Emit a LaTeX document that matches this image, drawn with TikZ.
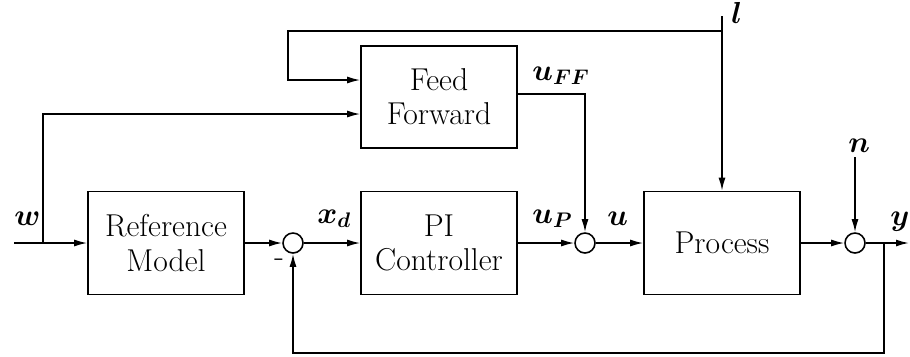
\documentclass[tikz,border=0pt]{standalone}
\usepackage{amsmath,amssymb,bm}
\usetikzlibrary{arrows.meta,calc}

\tikzset{
  block/.style={draw, line width=0.9pt, minimum width=3.12cm, minimum height=2.06cm,
    align=center, font=\fontsize{18}{19.5}\selectfont},
  sumpoint/.style={draw, circle, line width=0.9pt, minimum size=0.4cm, inner sep=0pt},
  wire/.style={line width=0.9pt},
  sig/.style={wire, -{Latex[length=2.6mm,width=1.4mm]}},
  lbl/.style={anchor=base west, inner sep=0pt, font=\fontsize{18}{20}\selectfont}
}

\begin{document}
\begin{tikzpicture}[x=0.02cm, y=-0.02cm]
  \useasboundingbox (0,0) rectangle (910,356);

  % Bloecke
  \node[block] (refmodel) at (166,243) {Reference\\Model};
  \node[block] (pi) at (439,243) {PI\\Controller};
  \node[block] (process) at (722,243) {Process};
  \node[block, minimum height=2.04cm] (ff) at (439,97) {Feed\\Forward};

  % Summationsstellen
  \node[sumpoint] (sum1) at (293,243) {};
  \node[sumpoint] (sum2) at (585,243) {};
  \node[sumpoint] (sum3) at (855,243) {};

  % Hilfspunkte
  \coordinate (win) at (14,243);
  \coordinate (wbranch) at (43,243);
  \coordinate (ltop) at (722,16);
  \coordinate (lbranch) at (722,31);
  \coordinate (lcorner) at (288,31);
  \coordinate (ntop) at (855,157);
  \coordinate (yout) at (909,243);
  \coordinate (ybranch) at (884,243);
  \coordinate (fbcorner) at (884,353);

  % Beschriftungen
  \node[lbl] (lw) at (14,225) {$\bm{w}$};
  \node[lbl] (lxd) at (317,223) {$\bm{x_d}$};
  \node[lbl] (lup) at (532,223) {$\bm{u_P}$};
  \node[lbl] (lu) at (607,225) {$\bm{u}$};
  \node[lbl] (ly) at (890,225) {$\bm{y}$};
  \node[lbl] (luff) at (532,80) {$\bm{u_{FF}}$};
  \node[lbl] (ln) at (848,152) {$\bm{n}$};
  \node[lbl] (ll) at (731,23) {$\bm{l}$};
  \node[lbl] (minus) at (274,266) {-};

  % Hauptpfad
  \draw[sig] (win) -- (refmodel.west);
  \draw[sig] (refmodel.east) -- (sum1.west);
  \draw[sig] (sum1.east) -- (pi.west);
  \draw[sig] (pi.east) -- (sum2.west);
  \draw[sig] (sum2.east) -- (process.west);
  \draw[sig] (process.east) -- (sum3.west);
  \draw[sig] (sum3.east) -- (yout);

  % Vorsteuerung
  \draw[sig] (wbranch) |- ($(ff.west)+(0,17)$);
  \draw[sig] (lbranch) -- (lcorner) |- ($(ff.west)+(0,-17)$);
  \draw[sig] ($(ff.east)+(0,-3)$) -| (sum2.north);

  % Stoerungen
  \draw[sig] (ltop) -- (process.north);
  \draw[sig] (ntop) -- (sum3.north);

  % Rueckfuehrung
  \draw[sig] (ybranch) -- (fbcorner) -| (sum1.south);
\end{tikzpicture}
\end{document}
